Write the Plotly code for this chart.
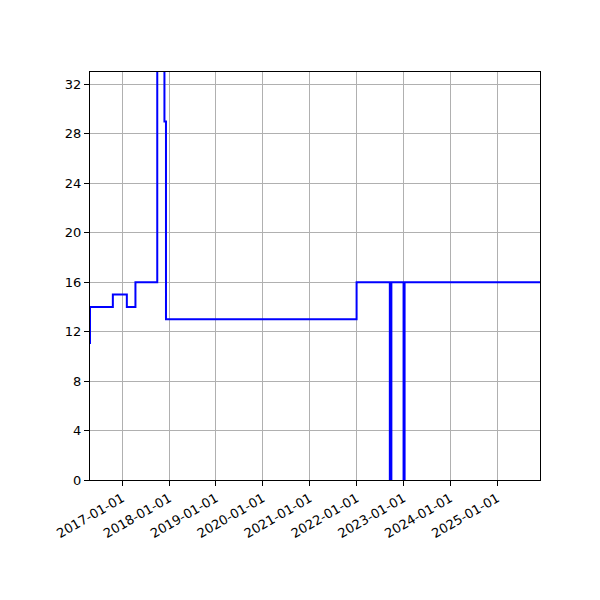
import plotly.graph_objects as go

# step data (value holds up to each date, like plt.step where='pre')
dates = ["2016-04-25", "2016-10-20", "2017-02-06", "2017-04-14", "2017-10-01",
         "2017-11-26", "2017-12-08", "2022-01-01", "2022-09-17", "2022-09-29",
         "2023-01-02", "2023-01-10", "2025-11-30"]
values = [11, 14, 15, 14, 16, 40, 29, 13, 16, 0, 16, 0, 16]

year_ticks = [f"{y}-01-01" for y in range(2017, 2026)]
y_ticks = list(range(0, 33, 4))

fig = go.Figure()
fig.add_trace(go.Scatter(x=dates, y=values, mode="lines", line_shape="vh",
                         line=dict(color="blue", width=2), showlegend=False))

axis_style = dict(showline=True, linecolor="black", linewidth=1, mirror=True,
                  ticks="outside", ticklen=5, tickcolor="black",
                  showgrid=True, gridcolor="#b0b0b0", gridwidth=1,
                  zeroline=False, tickfont=dict(family="DejaVu Sans", size=13, color="black"))

fig.update_xaxes(range=["2016-04-25", "2025-11-30"], tickvals=year_ticks,
                 tickformat="%Y-%m-%d", tickangle=-30, **axis_style)
fig.update_yaxes(range=[0, 33], tickvals=y_ticks, **axis_style)

# page body has an 8px margin, so shift the plot area up/left by 8
fig.update_layout(width=600, height=600, plot_bgcolor="white", paper_bgcolor="white",
                  margin=dict(l=82, r=68, t=64, b=128),
                  font=dict(family="DejaVu Sans"))

fig.write_html("out.html")
